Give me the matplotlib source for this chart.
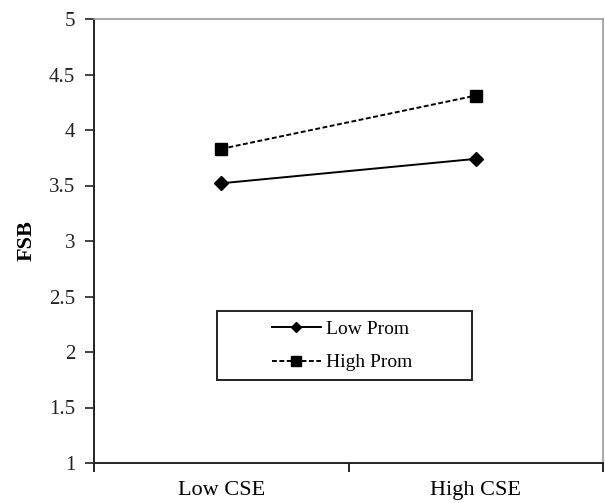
import numpy as np
import matplotlib
matplotlib.use("Agg")
import matplotlib.pyplot as plt
from matplotlib.patches import Rectangle

categories = ["Low CSE", "High CSE"]
low_prom = [3.52, 3.74]
high_prom = [3.83, 4.31]

plt.rcParams["font.family"] = ["Liberation Serif", "DejaVu Serif"]

W, H = 605, 503
fig = plt.figure(figsize=(W / 100, H / 100), dpi=100)
ax = fig.add_axes([94 / W, 1 - 463 / H, 509 / W, 444 / H])

x = np.array([0.5, 1.5])
ax.plot(x, low_prom, "-", color="black", lw=1.4, marker="D", ms=7, label="Low Prom")
ax.plot(x, high_prom, "--", color="black", lw=1.4, marker="s", ms=8.5,
        dashes=(2.5, 1.3), label="High Prom")

ax.set_xlim(0, 2)
ax.set_ylim(1, 5)
ax.set_yticks(np.arange(1, 5.01, 0.5))
ax.set_yticklabels(["1", "1.5", "2", "2.5", "3", "3.5", "4", "4.5", "5"])
ax.set_xticks([0, 1, 2])
ax.set_xticklabels([])
ax.set_xticks(x, minor=True)
ax.set_xticklabels(categories, minor=True)
ax.tick_params(axis="x", which="minor", length=0, labelsize=16, pad=13)
ax.tick_params(axis="x", which="major", length=6.5, direction="out", width=1.2)
ax.tick_params(axis="y", length=6.5, direction="out", width=1.2, labelsize=15, pad=7,
               colors="#222222")

for s in ["left", "bottom"]:
    ax.spines[s].set_linewidth(1.4)
    ax.spines[s].set_color("#222222")
for s in ["top", "right"]:
    ax.spines[s].set_color("#999999")
    ax.spines[s].set_linewidth(1.2)

ax.set_ylabel("FSB", fontsize=16, fontweight="bold", labelpad=9)

# legend box drawn separately to match the wide frame
fig.patches.append(Rectangle((217 / W, 1 - 380 / H), 255 / W, 69 / H,
                             transform=fig.transFigure, fill=False,
                             edgecolor="#222222", lw=1.4))
leg = ax.legend(loc="center left", bbox_to_anchor=(272 / W, 1 - 346 / H),
                bbox_transform=fig.transFigure, frameon=False, fontsize=14,
                handlelength=2.5, borderpad=0, labelspacing=0.8,
                handletextpad=0.3, borderaxespad=0, markerscale=0.8)

fig.savefig("out.png", dpi=100)
